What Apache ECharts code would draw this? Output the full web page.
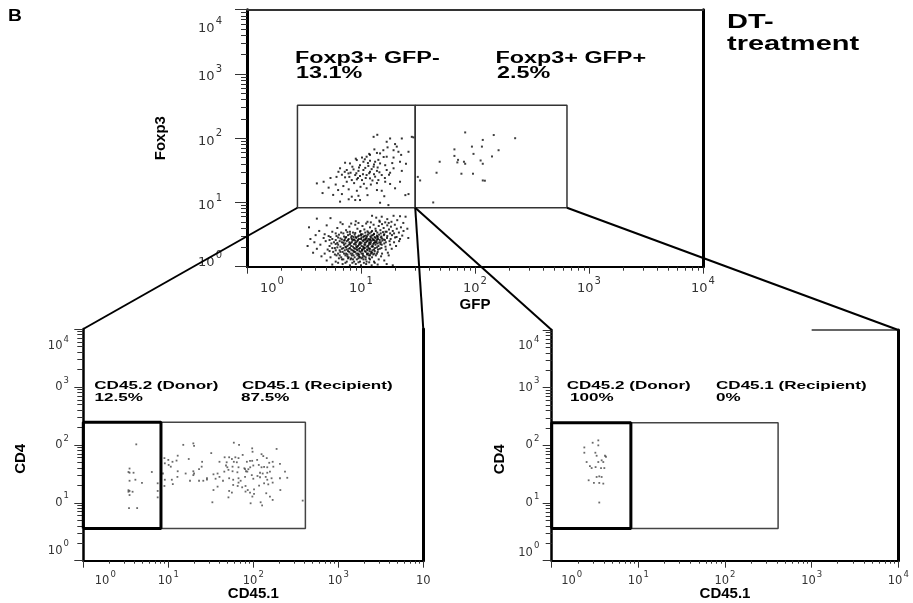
<!DOCTYPE html>
<html><head><meta charset="utf-8">
<script src="https://cdn.jsdelivr.net/npm/echarts@6/dist/echarts.min.js"></script>
<style>html,body{margin:0;padding:0;background:#fff}#c{width:913px;height:603px}</style>
</head><body><div id="c"></div>
<script>
// ---------- axis ticks ----------
const majorTicks = [1, 10, 100, 1000, 10000];
const minorTicks = [2,3,4,5,6,7,8,9,20,30,40,50,60,70,80,90,200,300,400,500,600,700,800,900,2000,3000,4000,5000,6000,7000,8000,9000];

// ---------- gates ----------
const topGateX = [2.77, 29.9, 641];   // GFP boundaries: Foxp3+GFP- | Foxp3+GFP+
const topGateY = [8.27, 327];         // Foxp3 range
const cdGateX = [1, 8.2, 410];        // CD45.1 boundaries: donor | recipient
const cdGateY = [3.6, 246];           // CD4 range
const partialTopBorderB = [1000, 10000];

// ---------- texts ----------
const topLabels = [['Foxp3+ GFP-', '13.1%'], ['Foxp3+ GFP+', '2.5%']];
const leftLabels = [['CD45.2 (Donor)', '12.5%'], ['CD45.1 (Recipient)', '87.5%']];
const rightLabels = [['CD45.2 (Donor)', '100%'], ['CD45.1 (Recipient)', '0%']];

// ---------- events: top plot [GFP, Foxp3] ----------
const foxNegGfpNeg = [
[4.1,5.6],[5.4,5.7],[12.5,6.2],[13.6,5.8],[15.2,6.0],[17.0,5.5],[19.3,6.2],[22,6.1],[24.6,6.0],[20.8,5.3],[14.5,5.2],[11.4,5.0],[16.3,4.9],[18.5,5.0],[23.5,4.8],[9.0,5.1],[6.6,4.9],
[3.5,4.1],[4.3,3.6],[5.0,4.4],[5.6,3.5],[6.2,4.0],[6.9,4.6],[7.4,3.7],[7.9,4.2],[8.5,3.4],[8.9,4.5],[9.3,3.9],[9.8,3.5],[10.3,4.3],[10.7,3.8],[11.1,4.7],[11.6,3.4],[12.0,4.1],[12.5,3.6],[12.9,4.5],[13.4,3.9],[13.9,3.4],[14.3,4.3],[14.8,3.7],[15.3,4.6],[15.8,4.0],[16.4,3.5],[17.0,4.4],[17.6,3.8],[18.3,4.2],[19.0,3.6],[19.8,4.5],[20.6,3.9],[21.5,3.4],[22.4,4.1],[23.6,3.6],[25.5,3.9],[7.0,3.3],[9.5,4.8],[11.9,3.3],[13.0,3.2],[16.0,3.2],[18.0,3.3],[10.0,3.2],[14.6,5.0],[12.2,4.9],[8.2,4.7],[6.0,3.3],[4.8,3.2],[17.5,4.8],[19.5,3.3],
[4.0,3.1],[5.2,3.0],[6.4,3.15],[7.1,2.95],[7.7,3.1],[8.3,3.0],[8.8,3.15],[9.4,2.95],[10.0,3.1],[10.5,2.9],[11.0,3.05],[11.5,3.15],[12.1,2.95],[12.7,3.1],[13.2,2.9],[13.8,3.05],[14.4,3.15],[15.1,2.95],[15.9,3.1],[17.0,3.0],[18.7,3.1],[20.5,2.9],[23.0,3.05],
[3.6,2.7],[4.7,2.8],[5.6,2.7],[6.3,2.85],[6.8,2.65],[7.3,2.8],[7.8,2.7],[8.2,2.85],[8.7,2.65],[9.1,2.8],[9.6,2.7],[10.1,2.85],[10.6,2.65],[11.1,2.8],[11.6,2.7],[12.2,2.85],[12.8,2.65],[13.4,2.8],[14.1,2.7],[14.9,2.85],[15.8,2.65],[16.9,2.8],[18.2,2.7],[19.9,2.85],[22.0,2.7],[26.0,2.8],
[3.9,2.4],[4.9,2.5],[5.8,2.4],[6.5,2.5],[7.0,2.35],[7.5,2.5],[7.9,2.4],[8.4,2.55],[8.9,2.35],[9.3,2.5],[9.8,2.4],[10.3,2.55],[10.8,2.35],[11.3,2.5],[11.9,2.4],[12.4,2.55],[13.0,2.35],[13.7,2.5],[14.5,2.4],[15.4,2.55],[16.5,2.4],[17.8,2.5],[19.5,2.4],[21.6,2.5],
[3.4,2.1],[4.4,2.2],[5.3,2.1],[6.0,2.25],[6.6,2.05],[7.1,2.2],[7.6,2.1],[8.0,2.25],[8.5,2.05],[9.0,2.2],[9.4,2.1],[9.9,2.25],[10.4,2.05],[10.9,2.2],[11.5,2.1],[12.1,2.25],[12.7,2.05],[13.4,2.2],[14.2,2.1],[15.2,2.2],[16.4,2.05],[18.0,2.2],[20.3,2.1],
[4.1,1.9],[5.1,1.85],[5.9,1.95],[6.5,1.8],[7.0,1.95],[7.5,1.85],[8.0,1.95],[8.4,1.8],[8.9,1.9],[9.3,1.8],[9.8,1.95],[10.3,1.85],[10.8,1.95],[11.4,1.8],[12.0,1.9],[12.6,1.8],[13.3,1.95],[14.1,1.85],[15.1,1.95],[16.5,1.85],[18.6,1.9],
[3.8,1.65],[4.8,1.6],[5.7,1.7],[6.3,1.6],[6.9,1.7],[7.4,1.6],[7.9,1.7],[8.4,1.6],[8.9,1.7],[9.4,1.6],[9.9,1.7],[10.4,1.6],[11.0,1.7],[11.6,1.6],[12.3,1.7],[13.1,1.6],[14.0,1.7],[15.3,1.6],[17.2,1.65],
[4.5,1.45],[5.4,1.4],[6.1,1.5],[6.7,1.4],[7.3,1.5],[7.8,1.4],[8.3,1.5],[8.8,1.4],[9.3,1.5],[9.8,1.4],[10.4,1.5],[11.0,1.4],[11.7,1.5],[12.5,1.4],[13.5,1.5],[15.0,1.45],[17.5,1.5],
[5.0,1.25],[6.0,1.2],[6.8,1.3],[7.5,1.2],[8.1,1.3],[8.7,1.2],[9.2,1.3],[9.8,1.2],[10.5,1.3],[11.2,1.2],[12.0,1.3],[13.0,1.2],[14.3,1.3],[16.0,1.25],
[5.6,1.08],[6.9,1.1],[8.0,1.05],[9.0,1.1],[10.0,1.05],[11.1,1.1],[12.4,1.05],[14.0,1.08],[16.8,1.1],[19.0,1.05],
[8.6,2.62],[9.7,2.32],[10.9,2.62],[11.8,2.32],[9.2,2.0],[10.6,2.0],[8.1,2.32],[12.9,2.6],[7.4,2.0],[11.6,1.97],[10.2,1.77],[8.6,1.77],[12.6,2.1],[9.0,2.9],[10.7,3.0],[12.0,2.68],[13.6,2.37],[7.6,1.55],[9.6,1.55],[11.3,1.55],[8.2,1.35],[10.1,1.35],[12.2,1.6],[13.9,2.95],[6.2,2.35],[7.2,2.62],[14.8,2.25],[15.6,3.45],[11.4,3.55],[8.0,3.5],
[6.7,3.4],[7.6,3.45],[8.9,3.35],[9.9,3.6],[10.9,3.4],[12.3,3.45],[13.5,3.6],[14.9,3.3],[16.8,3.5],[5.4,2.9],[6.1,3.0],[7.4,2.9],[8.0,3.2],[8.6,2.9],[9.6,3.05],[10.3,3.2],[11.3,2.95],[12.4,3.05],[13.0,3.25],[14.0,2.9],
[5.3,2.6],[6.0,2.6],[6.6,2.75],[7.1,2.55],[7.7,2.6],[8.3,2.7],[8.9,2.55],[9.4,2.6],[10.0,2.7],[10.5,2.5],[11.0,2.7],[11.5,2.55],[12.0,2.6],[12.6,2.75],[13.2,2.55],[13.8,2.65],[14.6,2.6],[15.3,2.75],[16.2,2.6],
[5.5,2.3],[6.3,2.2],[6.8,2.4],[7.3,2.3],[7.8,2.2],[8.3,2.4],[8.7,2.25],[9.1,2.4],[9.6,2.2],[10.1,2.35],[10.7,2.2],[11.1,2.4],[11.7,2.2],[12.2,2.4],[12.8,2.25],[13.3,2.4],[14.0,2.3],[14.9,2.4],[16.0,2.3],
[5.6,1.95],[6.2,2.0],[6.8,1.9],[7.3,2.05],[7.8,1.9],[8.2,2.1],[8.7,1.95],[9.1,2.05],[9.6,1.9],[10.1,2.1],[10.6,1.9],[11.2,2.05],[11.8,1.9],[12.4,2.05],[13.0,1.85],[13.8,2.0],[14.6,1.9],
[5.3,1.75],[6.0,1.8],[6.6,1.7],[7.2,1.8],[7.7,1.75],[8.2,1.85],[8.7,1.7],[9.2,1.85],[9.7,1.75],[10.2,1.85],[10.8,1.75],[11.3,1.85],[11.9,1.75],[12.5,1.65],[13.2,1.75],
[5.9,1.55],[6.5,1.5],[7.1,1.6],[7.6,1.45],[8.1,1.6],[8.6,1.5],[9.1,1.6],[9.6,1.45],[10.1,1.6],[10.7,1.45],[11.3,1.6],[12.0,1.5],[12.8,1.55],[13.8,1.6],
[6.4,1.35],[7.0,1.3],[7.7,1.35],[8.5,1.3],[9.5,1.35],[10.3,1.4],[11.0,1.3],[11.8,1.35],[6.3,1.15],[7.3,1.15],[8.4,1.15],[9.5,1.17],[10.6,1.15],[11.8,1.17],[13.2,1.15]
];
const foxPosGfpNeg = [
[13.9,113],[12.9,105],[18.0,99],[16.8,88],[22.8,99],[28.9,103],[20.6,74],[19.3,65],[15.7,65],[21.3,61.5],[13.8,59],[14.7,58],[26.1,61.5],[12.0,55],[11.2,51.5],[10.2,50],[16.8,51.5],[19.3,50],
[9.18,45.7],[10.5,43],[12.0,44.6],[13.3,43],[14.7,40.5],[8.0,40.5],[7.25,41.5],[16.3,38],[22.0,43],[9.8,38],[11.6,37],[12.9,36],[6.55,34],[7.5,32],[8.6,32.7],[9.5,31],[10.5,32],[12.0,30],[13.8,31],[16.8,32],[19.3,34],
[6.34,30],[7.76,28.3],[8.9,26.7],[9.8,25.8],[11.2,26.7],[13.3,25.2],[15.2,26.7],[18.0,29],[22.8,31],[6.1,25],[7.25,24.6],[8.3,22.3],[9.2,22.9],[10.2,22.3],[12.0,23.7],[14.2,22.3],[16.3,21],[4.7,21],[4.1,19.8],[7.5,21],[18.0,19.4],
[6.3,15.6],[7.8,16],[9.2,15.2],[11.2,16.6],[13.8,15.6],[15.2,15.2],[19.9,16.6],[5.7,13.1],[6.8,13.5],[8.3,12.3],[9.5,12.7],[8.9,10.9],[7.8,11.2],[9.8,10.9],[6.55,10.3],[14.7,9.9],[17.4,9.1],[26.1,13.5],[27.9,105],
[9.0,48],[10.8,47],[11.5,41],[13.0,39],[8.4,36],[9.6,35],[10.9,34.5],[12.4,33],[14.0,35],[7.2,30],[8.1,29],[9.1,28.5],[10.4,27.5],[11.8,28.5],[13.0,27.5],[14.5,29.5],[6.8,27],[7.9,25],[9.4,24],[11.0,24],[12.6,22],[8.7,20],[10.6,19.5],[12.2,19],[13.8,20],[5.4,24],[6.0,19],[7.0,18],[9.9,17.5],[16.2,24],[17.6,27],[18.8,41],[14.2,46],[15.8,51],[11.8,57],[13.1,67],[17.1,72],[19.9,81],[22.5,55],[24.8,40],[5.2,17],[4.6,14],[11.4,13],[16.0,12.5],[22.0,21],[24.5,13]
];
const foxPosGfpPos = [
[82,123],[146,112],[225,100],[117,94],[94,74],[115,74],[66,67],[161,65],[97,57],[66,53],[141,52],[49,43],[70,42],[80,43],[82,40],[112,45],[117,40],[46,29],[76,28],[96,28],[117,22],[122,21.8],[33,22],[43,10],[31.5,25],[71,46]
];

// ---------- events: lower left [CD45.1, CD4] ----------
const donorA = [
[4.2,102],[3.5,39],[3.4,34],[3.9,33],[6.4,34],[3.5,24],[4.1,25],[4.9,22],[3.5,16],[3.4,15.5],[3.8,15.5],[3.5,13.6],[7.5,21.7],[7.5,16],[7.5,12.4],[3.45,8.1],[4.3,8.1],[3.4,16.5],[3.5,33]
];
const recipientA = [
[15,100],[19.7,106],[20.1,96],[59,109],[68,100],[97,87],[98,76],[188,85],[32,72],[12.9,65],[75,67],[125,69],[131,64],[46,61],[52,61],[56,57],[61.5,61],[67,59],[9.0,59],[10,55],[11.2,51],[12.5,53.5],[17.4,57],[25,51],[40,51],[48.6,50],[59,51],[64,50],[84,51],[91.5,53],[97,53],[111,55],[144,59],[154,49],[169,51],[206,47],
[9.1,48],[10.1,45],[10.7,42],[24.7,42],[47.7,44],[49.5,41],[57,42],[67,41],[78.5,39.4],[87.5,38],[92,41],[100,44],[116,45],[125,41],[134,41.6],[146,41],[172,42],
[8.65,32],[12.9,35],[16,32],[19.7,35],[20.1,32],[23,38],[34,31],[38,32],[45.6,34.5],[51,37],[57,35],[65,33.6],[80,38],[82,35],[85,34.5],[96,30],[120,33],[129,32],[146,33],[157,34.5],[236,34.5],
[9.1,25],[11,25],[12.8,28],[18,24],[19.7,30],[23,24],[25.8,24],[28.5,26.5],[28.5,25],[36,26],[40,28],[44,24],[52,26.5],[58,25],[67,26.5],[71,24],[80,28],[100,26],[112,29],[120,27.6],[140,28],[146,25],[164,26.5],[206,26.5],[251,27],
[9.0,19.5],[11.3,21],[34,16.6],[38,19],[52,16],[58,20.3],[65.5,19.5],[67,22.3],[74,18.5],[81,19.5],[86,16.6],[102,17],[117,19.8],[134,21.7],[150,20.8],[169,22.3],[208,16.6],
[51,12.4],[56,15],[81,15.6],[91.5,15],[97.5,12.8],[102,14.2],[142,14.6],[157,12.8],[169,11.2],[33,10.2],[93,9.8],[122,10.2],[127,9.0],[381,10.9]
];

// ---------- events: lower right [CD45.1, CD4] ----------
const donorB = [
[3.45,122],[2.97,111],[3.45,100],[2.38,92],[2.38,74.5],[3.19,74.5],[3.3,66],[4.12,66],[4.23,63.5],[3.77,55],[2.53,51.4],[3.45,51.4],[3.94,51.4],[2.76,43.8],[2.89,40.4],[3.21,42],[3.71,40.4],[4.05,40.4],[3.3,28.3],[3.77,28.3],[3.54,29],[2.67,24.8],[3.07,22.3],[3.54,22.3],[3.94,21.7],[3.54,10.2]
];

// ---------- helpers ----------
const FONT = '"Liberation Sans", Arial, sans-serif';
const TICKFONT = '"DejaVu Sans", sans-serif';
function rect(x0, x1, y0, y1) { return [[x0, y0], [x1, y0], [x1, y1], [x0, y1], [x0, y0]]; }
function expOf(v) { return Math.round(Math.log10(v)); }

function richTop() {
  return {
    b: {fontSize: 13, verticalAlign: 'middle', lineHeight: 14, color: '#333', fontFamily: TICKFONT},
    s: {fontSize: 10, lineHeight: 10, padding: [0, 0, 15, 1], verticalAlign: 'middle', color: '#333', fontFamily: TICKFONT},
    gx: {width: 50, fontSize: 1, lineHeight: 1},
    gy4: {fontSize: 1, lineHeight: 38, height: 38},
    gy1: {fontSize: 1, lineHeight: 6, height: 6},
    gy0: {fontSize: 1, lineHeight: 8, height: 8}
  };
}
function richBottom(gx, gy4, gy0) {
  return {
    b: {fontSize: 11.5, verticalAlign: 'middle', lineHeight: 13, color: '#333', fontFamily: TICKFONT},
    s: {fontSize: 8.5, lineHeight: 8, padding: [0, 0, 13, 1], verticalAlign: 'middle', color: '#333', fontFamily: TICKFONT},
    gx: {width: gx, fontSize: 1, lineHeight: 1},
    gy4: {fontSize: 1, lineHeight: gy4, height: gy4},
    gy0: {fontSize: 1, lineHeight: gy0, height: gy0}
  };
}
const core = e => '{b|10}{s|' + e + '}';

function xMain(grid, margin, fmt, rich, lineW, tickLen, name, nameGap) {
  return {
    type: 'log', logBase: 10, gridIndex: grid, min: 1, max: 10000, position: 'bottom',
    axisLine: {show: true, onZero: false, lineStyle: {color: '#000', width: lineW}},
    axisTick: {show: true, customValues: majorTicks, length: tickLen, lineStyle: {color: '#333', width: 1}},
    axisLabel: {show: true, customValues: majorTicks, margin: margin, formatter: fmt, rich: rich, verticalAlign: 'top', showMinLabel: true, showMaxLabel: true},
    splitLine: {show: false},
    name: name, nameLocation: 'middle', nameGap: nameGap, nameMoveOverlap: false,
    nameTextStyle: {fontFamily: FONT, fontWeight: 'bold', fontSize: 15, color: '#000', verticalAlign: 'top'}
  };
}
function xMinor(grid, tickLen) {
  return {
    type: 'log', logBase: 10, gridIndex: grid, min: 1, max: 10000, position: 'bottom',
    axisLine: {show: false},
    axisTick: {show: true, customValues: minorTicks, length: tickLen, lineStyle: {color: '#333', width: 1}},
    axisLabel: {show: false}, splitLine: {show: false}
  };
}
function yMain(grid, margin, fmt, rich, lineW, tickLen, name, nameGap, namePad) {
  return {
    type: 'log', logBase: 10, gridIndex: grid, min: 1, max: 10000, position: 'left',
    axisLine: {show: true, onZero: false, lineStyle: {color: '#000', width: lineW}},
    axisTick: {show: true, customValues: majorTicks, length: tickLen, lineStyle: {color: '#333', width: 1}},
    axisLabel: {show: true, customValues: majorTicks, margin: margin, formatter: fmt, rich: rich, align: 'right', verticalAlign: 'middle', showMinLabel: true, showMaxLabel: true},
    splitLine: {show: false},
    name: name, nameLocation: 'middle', nameGap: nameGap, nameRotate: 90, nameMoveOverlap: false,
    nameTextStyle: {fontFamily: FONT, fontWeight: 'bold', fontSize: 15, color: '#000', padding: namePad}
  };
}
function yMinor(grid, tickLen) {
  return {
    type: 'log', logBase: 10, gridIndex: grid, min: 1, max: 10000, position: 'left',
    axisLine: {show: false},
    axisTick: {show: true, customValues: minorTicks, length: tickLen, lineStyle: {color: '#333', width: 1}},
    axisLabel: {show: false}, splitLine: {show: false}
  };
}
function border(grid, pos, color, w) {
  return {
    type: 'value', gridIndex: grid, position: pos, min: 0, max: 1,
    axisLine: {show: true, onZero: false, lineStyle: {color: color, width: w}},
    axisTick: {show: false}, axisLabel: {show: false}, splitLine: {show: false}
  };
}

// label formatters
const fmtTopX = v => { const e = expOf(v); return e === 0 ? '{gx| }' + core(e) : core(e); };
const fmtTopY = v => { const e = expOf(v);
  if (e === 4) return '{gy4| }\n' + core(e);
  if (e === 0) return core(e) + '\n{gy0| }';
  return '{gy1| }\n' + core(e); };
const fmtBLX = v => { const e = expOf(v);
  if (e === 0) return '{gx| }' + core(e);
  if (e === 4) return '{b|10}';
  return core(e); };
const fmtBLY = v => { const e = expOf(v);
  if (e === 4) return '{gy4| }\n' + core(e);
  if (e === 0) return core(e) + '\n{gy0| }';
  return '{b|0}{s|' + e + '}'; };
const fmtBRX = v => { const e = expOf(v); return e === 0 ? '{gx| }' + core(e) : core(e); };
const fmtBRY = v => { const e = expOf(v);
  if (e === 4) return '{gy4| }\n' + core(e);
  if (e === 0) return core(e) + '\n{gy0| }';
  if (e === 3) return core(e);
  return '{b|0}{s|' + e + '}'; };

const grids = [
  {left: 247, top: 9.7, width: 456, height: 257, outerBoundsMode: 'none', containLabel: false},
  {left: 83.3, top: 329, width: 340, height: 231.7, outerBoundsMode: 'none', containLabel: false},
  {left: 551.7, top: 330, width: 346.6, height: 230.7, outerBoundsMode: 'none', containLabel: false}
];

const xAxes = [
  xMain(0, 15, fmtTopX, richTop(), 2, 7, 'GFP', 31),                // 0
  xMinor(0, 4),                                                     // 1
  border(0, 'top', '#333', 2),                                      // 2
  xMain(1, 14, fmtBLX, richBottom(44, 34, 20), 2, 7, 'CD45.1', 26),  // 3
  xMinor(1, 3),                                                     // 4
  xMain(2, 14, fmtBRX, richBottom(40, 32, 16), 2, 7, 'CD45.1', 26),  // 5
  xMinor(2, 3)                                                      // 6
];
const yAxes = [
  yMain(0, 25, fmtTopY, richTop(), 3, 12, 'Foxp3', 79, [0, 0, 0, 0]),   // 0
  yMinor(0, 6),                                                          // 1
  border(0, 'right', '#000', 3),                                         // 2
  yMain(1, 14.4, fmtBLY, richBottom(44, 34, 20), 2.5, 9, 'CD4', 55, [0, 28, 0, 0]), // 3
  yMinor(1, 6),                                                          // 4
  border(1, 'right', '#000', 3),                                         // 5
  yMain(2, 12.4, fmtBRY, richBottom(40, 32, 16), 2.5, 9, 'CD4', 44, [0, 28, 0, 0]), // 6
  yMinor(2, 6),                                                          // 7
  border(2, 'right', '#000', 3)                                          // 8
];

function dots(data, xi, yi, color, size) {
  return {type: 'scatter', xAxisIndex: xi, yAxisIndex: yi, data: data, symbol: 'rect', symbolSize: size,
    itemStyle: {color: color}, silent: true, z: 2};
}
function gateLine(data, xi, yi, color, width, z) {
  return {type: 'line', xAxisIndex: xi, yAxisIndex: yi, data: data, symbol: 'none', clip: false, silent: true,
    lineStyle: {color: color, width: width}, z: z || 3};
}

const series = [
  dots(foxNegGfpNeg, 0, 0, '#000', 2),
  dots(foxPosGfpNeg, 0, 0, '#000', 2),
  dots(foxPosGfpPos, 0, 0, '#111', 2),
  gateLine(rect(topGateX[0], topGateX[1], topGateY[0], topGateY[1]), 0, 0, '#333', 1.5),
  gateLine(rect(topGateX[1], topGateX[2], topGateY[0], topGateY[1]), 0, 0, '#333', 1.5),
  dots(donorA, 3, 3, '#444', 1.8),
  dots(recipientA, 3, 3, '#444', 1.8),
  gateLine(rect(cdGateX[1], cdGateX[2], cdGateY[0], cdGateY[1]), 3, 3, '#444', 1.5, 3),
  gateLine(rect(cdGateX[0], cdGateX[1], cdGateY[0], cdGateY[1]), 3, 3, '#000', 3, 4),
  dots(donorB, 5, 6, '#444', 1.8),
  gateLine(rect(cdGateX[1], cdGateX[2], cdGateY[0], cdGateY[1]), 5, 6, '#444', 1.5, 3),
  gateLine(rect(cdGateX[0], cdGateX[1], cdGateY[0], cdGateY[1]), 5, 6, '#000', 3, 4),
  gateLine([[partialTopBorderB[0], 10000], [partialTopBorderB[1], 10000]], 5, 6, '#333', 1.5, 3)
];

function txt(text, x, y, size, sx) {
  return {type: 'text', x: x, y: y, scaleX: sx, z: 10,
    style: {text: text, font: 'bold ' + size + 'px ' + FONT, fill: '#000',
      textAlign: 'left', textVerticalAlign: 'middle', align: 'left', verticalAlign: 'middle'}};
}
const texts = [
  txt('B', 8, 17, 16, 1.2),
  txt('DT-', 727, 22, 20, 1.45),
  txt('treatment', 727, 44, 20, 1.45),
  txt(topLabels[0][0], 295, 59, 16, 1.46), txt(topLabels[0][1], 296, 74, 16, 1.46),
  txt(topLabels[1][0], 495.5, 59, 16, 1.46), txt(topLabels[1][1], 497, 74, 16, 1.46),
  txt(leftLabels[0][0], 94.3, 386, 11, 1.55), txt(leftLabels[0][1], 94.5, 398, 11, 1.55),
  txt(leftLabels[1][0], 242, 386, 11, 1.55), txt(leftLabels[1][1], 241, 398, 11, 1.55),
  txt(rightLabels[0][0], 566.7, 386, 11, 1.55), txt(rightLabels[0][1], 570, 398, 11, 1.55),
  txt(rightLabels[1][0], 716, 386, 11, 1.55), txt(rightLabels[1][1], 716, 398, 11, 1.55)
];

const chart = echarts.init(document.getElementById('c'), null, {renderer: 'canvas'});
chart.setOption({
  animation: false,
  backgroundColor: '#fff',
  grid: grids,
  xAxis: xAxes,
  yAxis: yAxes,
  series: series,
  graphic: texts
});

// connecting lines from top gates to the lower plots, through the axes' own scales
const P = (xi, yi, pt) => chart.convertToPixel({xAxisIndex: xi, yAxisIndex: yi}, pt);
const gBL = P(0, 0, [topGateX[0], topGateY[0]]);
const gBM = P(0, 0, [topGateX[1], topGateY[0]]);
const gBR = P(0, 0, [topGateX[2], topGateY[0]]);
const aTL = P(3, 3, [1, 10000]), aTR = P(3, 3, [10000, 10000]);
const bTL = P(5, 6, [1, 10000]), bTR = P(5, 6, [10000, 10000]);
function seg(a, b) {
  return {type: 'line', z: 9, shape: {x1: a[0], y1: a[1], x2: b[0], y2: b[1]}, style: {stroke: '#000', lineWidth: 2}};
}
chart.setOption({graphic: texts.concat([seg(gBL, aTL), seg(gBM, aTR), seg(gBM, bTL), seg(gBR, bTR)])});
</script>
</body></html>
